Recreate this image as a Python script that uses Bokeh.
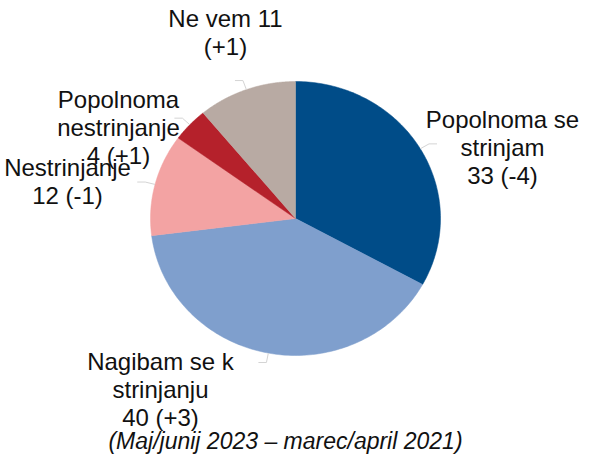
import numpy as np
from bokeh.plotting import figure
from bokeh.models import Range1d, ColumnDataSource
from bokeh.core.properties import value
from bokeh.embed import file_html
from bokeh.resources import INLINE

# ---- data ----
categories = ["Popolnoma se\nstrinjam", "Nagibam se k\nstrinjanju", "Nestrinjanje",
              "Popolnoma\nnestrinjanje", "Ne vem"]
values = [33, 40, 12, 4, 11]
changes = ["-4", "+3", "-1", "+1", "+1"]
colors = ["#004c88", "#7f9fcd", "#f3a3a3", "#b5212b", "#b8aaa3"]
footnote = "(Maj/junij 2023 \u2013 marec/april 2021)"

# ---- layout ----
W, H = 581, 455
cx, cy, rx, ry = 295, 218, 145, 137
label_x = [502, 160, 67, 118, 225]
label_y = [147, 389, 181, 127, 32]
templates = ["{n}\n{v} ({c})", "{n}\n{v} ({c})", "{n}\n{v} ({c})",
             "{n}\n{v} ({c})", "{n} {v}\n({c})"]
leader_dir = [1, -1, -1, -1, -1]

p = figure(width=W, height=H, output_backend="svg", toolbar_location=None,
           x_range=Range1d(0, W), y_range=Range1d(H, 0), min_border=0)
p.axis.visible = False
p.grid.visible = False
p.outline_line_color = None
p.background_fill_color = "white"
p.border_fill_color = "white"

total = float(sum(values))
frac = np.array(values) / total
ends = np.cumsum(frac) * 2 * np.pi
starts = ends - frac * 2 * np.pi

xs, ys = [], []
lx, ly = [], []
for s, e, d in zip(starts, ends, leader_dir):
    t = np.linspace(s, e, 120)
    xs.append([cx] + list(cx + rx * np.sin(t)) + [cx])
    ys.append([cy] + list(cy - ry * np.cos(t)) + [cy])
    m = (s + e) / 2
    x0, y0 = cx + rx * np.sin(m), cy - ry * np.cos(m)
    x1, y1 = cx + 1.07 * rx * np.sin(m), cy - 1.07 * ry * np.cos(m)
    lx.append([x0, x1, x1 + d * 8])
    ly.append([y0, y1, y1])

p.patches(xs, ys, fill_color=colors, line_color=colors, line_width=0.5)
p.multi_line(lx, ly, line_color="#d4d4d4", line_width=1)

labels = [tpl.format(n=n, v=v, c=c) for tpl, n, v, c in zip(templates, categories, values, changes)]
src = ColumnDataSource(dict(x=label_x, y=label_y, text=labels))
p.text(x="x", y="y", text="text", source=src, text_align="center", text_baseline="middle",
       text_font=value("Liberation Sans"), text_font_size="24px", text_color="#111111",
       text_line_height=1.03)

p.text(x=[285], y=[440], text=[footnote], text_align="center", text_baseline="middle",
       text_font=value("Liberation Sans"), text_font_size="23px", text_font_style="italic",
       text_color="#111111")

open("out.html", "w").write(file_html(p, INLINE))
